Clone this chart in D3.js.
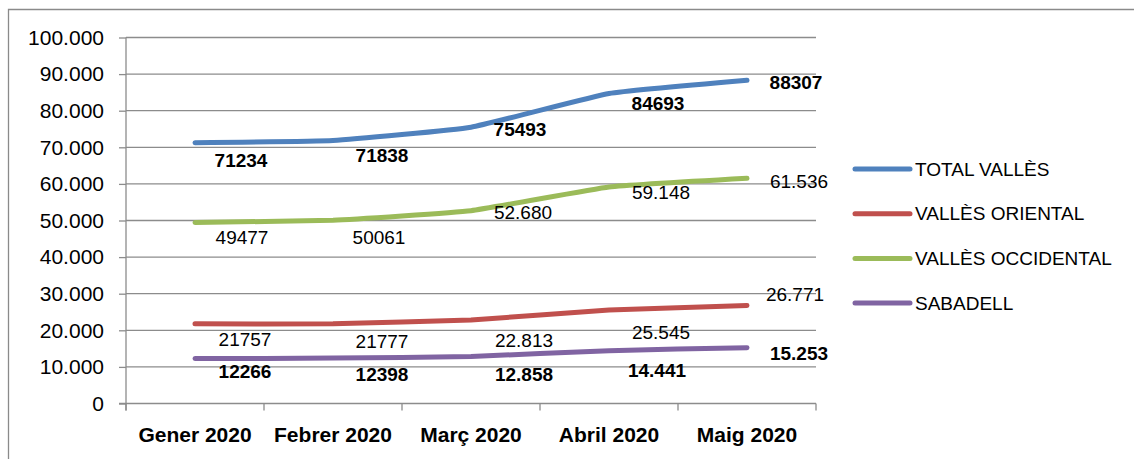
<!DOCTYPE html>
<html>
<head>
<meta charset="utf-8">
<script src="https://cdn.jsdelivr.net/npm/d3@7"></script>
<style>
  html, body { margin: 0; padding: 0; background: #fff; }
  svg { display: block; }
  text { font-family: "Liberation Sans", Arial, sans-serif; fill: #000; }
</style>
</head>
<body>
<svg id="chart" width="1134" height="459"></svg>
<script>
// ---- data ----
const categories = ["Gener 2020", "Febrer 2020", "Març 2020", "Abril 2020", "Maig 2020"];
const seriesNames = ["TOTAL VALLÈS", "VALLÈS ORIENTAL", "VALLÈS OCCIDENTAL", "SABADELL"];
const totalValles = [71234, 71838, 75493, 84693, 88307];
const vallesOriental = [21757, 21777, 22813, 25545, 26771];
const vallesOccidental = [49477, 50061, 52680, 59148, 61536];
const sabadell = [12266, 12398, 12858, 14441, 15253];
const totalLabels = ["71234", "71838", "75493", "84693", "88307"];
const orientalLabels = ["21757", "21777", "22.813", "25.545", "26.771"];
const occidentalLabels = ["49477", "50061", "52.680", "59.148", "61.536"];
const sabadellLabels = ["12266", "12398", "12.858", "14.441", "15.253"];
const yTicks = [0, 10000, 20000, 30000, 40000, 50000, 60000, 70000, 80000, 90000, 100000];

// ---- styling / layout ----
const colors = ["#4F81BD", "#C0504D", "#9BBB59", "#8064A2"];
const boldLabels = [true, false, false, true];
// label offsets (dx, dy) relative to each point
const labelOffsets = [
  [[46, 18], [49, 15], [49, 2], [49, 10], [49, 2]],
  [[50, 16], [49, 18], [53, 20], [52, 22], [48, -11]],
  [[47, 15], [46, 17], [52, 2], [52, 5], [52, 3]],
  [[50, 13], [49, 16], [53, 18], [48, 20], [52, 6]]
];

const series = [
  { name: seriesNames[0], values: totalValles, labels: totalLabels },
  { name: seriesNames[1], values: vallesOriental, labels: orientalLabels },
  { name: seriesNames[2], values: vallesOccidental, labels: occidentalLabels },
  { name: seriesNames[3], values: sabadell, labels: sabadellLabels }
];

const svg = d3.select("#chart");

// outer frame (top and left visible)
svg.append("path")
  .attr("d", "M8.5,460 L8.5,9.5 L1134,9.5")
  .attr("fill", "none").attr("stroke", "#8a8a8a").attr("stroke-width", 1.3);

const plot = { left: 126, right: 816, top: 37.5, bottom: 403.5 };

const x = d3.scaleBand().domain(categories).range([plot.left, plot.right]).padding(0);
const y = d3.scaleLinear().domain([0, 100000]).range([plot.bottom, plot.top]);

const fmt = v => d3.format(",")(v).replace(/,/g, ".");

// gridlines
svg.append("g").selectAll("line").data(yTicks.filter(d => d > 0)).join("line")
  .attr("x1", plot.left).attr("x2", plot.right)
  .attr("y1", d => y(d)).attr("y2", d => y(d))
  .attr("stroke", "#8c8c8c").attr("stroke-width", 1.3);

// y axis
const yAxis = d3.axisLeft(y).tickValues(yTicks).tickFormat(fmt).tickSize(7).tickPadding(15);
const gy = svg.append("g").attr("transform", `translate(${plot.left},0)`).call(yAxis);
gy.select(".domain").remove();
gy.selectAll(".tick line").attr("stroke", "#8c8c8c").attr("stroke-width", 1.3);
gy.selectAll(".tick text").attr("font-size", 21).attr("font-family", "'Liberation Sans', Arial, sans-serif").attr("fill", "#000");
svg.append("line").attr("x1", plot.left).attr("x2", plot.left)
  .attr("y1", plot.top).attr("y2", plot.bottom + 7)
  .attr("stroke", "#8c8c8c").attr("stroke-width", 1.3);

// x axis
const xAxis = d3.axisBottom(x).tickSize(0).tickPadding(24);
const gx = svg.append("g").attr("transform", `translate(0,${plot.bottom})`).call(xAxis);
gx.select(".domain").remove();
gx.selectAll(".tick text").attr("font-size", 21).attr("font-weight", "bold")
  .attr("font-family", "'Liberation Sans', Arial, sans-serif").attr("fill", "#000");
svg.append("line").attr("x1", plot.left - 7).attr("x2", plot.right)
  .attr("y1", plot.bottom).attr("y2", plot.bottom)
  .attr("stroke", "#8c8c8c").attr("stroke-width", 1.3);
// category boundary ticks
const bounds = categories.map(c => x(c)).concat([plot.right]);
svg.append("g").selectAll("line").data(bounds).join("line")
  .attr("x1", d => d).attr("x2", d => d)
  .attr("y1", plot.bottom).attr("y2", plot.bottom + 7)
  .attr("stroke", "#8c8c8c").attr("stroke-width", 1.3);

// lines
const line = d3.line()
  .x((d, i) => x(categories[i]) + x.bandwidth() / 2)
  .y(d => y(d))
  .curve(d3.curveCardinal.tension(0.65));

series.forEach((s, si) => {
  svg.append("path")
    .attr("d", line(s.values))
    .attr("fill", "none")
    .attr("stroke", colors[si])
    .attr("stroke-width", 5)
    .attr("stroke-linecap", "round")
    .attr("stroke-linejoin", "round");
});

// data labels
series.forEach((s, si) => {
  svg.append("g").selectAll("text").data(s.values).join("text")
    .attr("x", (d, i) => x(categories[i]) + x.bandwidth() / 2 + labelOffsets[si][i][0])
    .attr("y", (d, i) => y(d) + labelOffsets[si][i][1])
    .attr("text-anchor", "middle")
    .attr("dominant-baseline", "central")
    .attr("font-size", 19)
    .attr("font-weight", boldLabels[si] ? "bold" : "normal")
    .text((d, i) => s.labels[i]);
});

// legend
const legend = svg.append("g").attr("transform", "translate(855,169)");
seriesNames.forEach((n, i) => {
  const g = legend.append("g").attr("transform", `translate(0,${i * 44.7})`);
  g.append("line").attr("x1", 0).attr("x2", 55).attr("y1", 0).attr("y2", 0)
    .attr("stroke", colors[i]).attr("stroke-width", 5).attr("stroke-linecap", "round");
  g.append("text").attr("x", 60).attr("y", 0).attr("dominant-baseline", "central")
    .attr("font-size", 19).text(n);
});
</script>
</body>
</html>
